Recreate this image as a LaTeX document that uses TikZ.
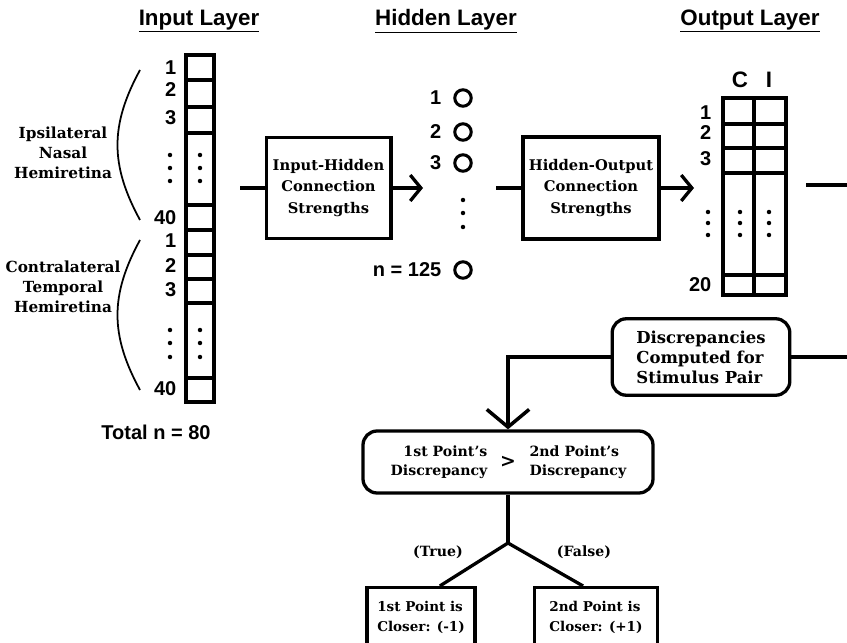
\documentclass[tikz,border=0pt]{standalone}
\usepackage{fontspec}
\setmainfont{DejaVu Serif}
\setsansfont{Liberation Sans}
\usepackage{tikz}
\usetikzlibrary{arrows.meta}

\begin{document}
\begin{tikzpicture}[x=0.85pt, y=-0.85pt, line width=2.8pt,
    head/.style={font=\sffamily\bfseries\fontsize{19}{22}\selectfont, inner sep=0pt},
    num/.style={font=\sffamily\bfseries\fontsize{17}{20}\selectfont, anchor=east, inner sep=0pt},
    note/.style={font=\bfseries\fontsize{13}{17}\selectfont, align=center, inner sep=0pt},
    box/.style={draw, line width=2.8pt, font=\bfseries\fontsize{12.5}{18}\selectfont, align=center, inner sep=0pt},
    rbox/.style={box, rounded corners=12pt},
    tag/.style={font=\bfseries\fontsize{12}{16}\selectfont, inner sep=0pt},
    unit/.style={draw, circle, line width=2.6pt, minimum size=14pt, inner sep=0pt},
    barb/.style={-{Straight Barb[length=9pt,width=22pt,line width=2.8pt]}},
    bigbarb/.style={-{Straight Barb[length=15pt,width=36pt,line width=3pt]}}]
    \useasboundingbox (0,0) rectangle (847,643);

    \node[head] (inTitle) at (199,21) {\underline{Input Layer}};
    \node[head] (hidTitle) at (446,21) {\underline{Hidden Layer}};
    \node[head] (outTitle) at (750,21) {\underline{Output Layer}};

    \foreach \t/\b in {55/80,80/107,107/133,133/205,205/230,230/255,255/279,279/303,303/378,378/402}
        \draw (186,\t) rectangle (214,\b);
    \foreach \y/\n in {68/1,90/2,118/3,218/40,241/1,266/2,290/3,389/40}
        \node[num] at (178,\y) {\n};
    \foreach \y in {155,168,181,330,343,357} {
        \fill (170,\y) circle (1.9pt);
        \fill (200,\y) circle (1.9pt);
    }
    \draw[line width=1.5pt] (140,70) .. controls (110,125) and (110,165) .. (140,220);
    \draw[line width=1.5pt] (140,240) .. controls (110,295) and (110,335) .. (140,390);
    \node[note] (nasal) at (63,153) {Ipsilateral\\Nasal\\Hemiretina};
    \node[note] (temporal) at (63,287) {Contralateral\\Temporal\\Hemiretina};
    \node[head, font=\sffamily\bfseries\fontsize{17}{20}\selectfont] (total) at (156,432) {Total n = 80};

    \foreach \y/\n in {98/1,132/2,163/3,270/{n = 125}} {
        \node[unit] (h\y) at (463,\y) {};
        \node[num] at (443,\y) {\n};
    }
    \foreach \y in {200,213,227}
        \fill (463,\y) circle (1.9pt);

    \foreach \t/\b in {98/124,124/148,148/173,173/275,275/295} {
        \draw (723,\t) rectangle (754,\b);
        \draw (754,\t) rectangle (786,\b);
    }
    \node[head] at (740,80) {C};
    \node[head] at (769,80) {I};
    \foreach \y/\n in {113/1,133/2,159/3,285/20}
        \node[num] at (713,\y) {\n};
    \foreach \y in {212,223,235} {
        \fill (708,\y) circle (1.9pt);
        \fill (740,\y) circle (1.9pt);
        \fill (769,\y) circle (1.9pt);
    }

    \node[box, minimum width=106pt, minimum height=86pt] (ih) at (328.5,188) {Input-Hidden\\Connection\\Strengths};
    \node[box, minimum width=115.6pt, minimum height=86.7pt] (ho) at (591,188) {Hidden-Output\\Connection\\Strengths};
    \coordinate (inEnd) at (240,188);
    \coordinate (ihEnd) at (423,188);
    \coordinate (hoStart) at (496,188);
    \coordinate (hoEnd) at (694,188);
    \coordinate (outA) at (806,185);
    \coordinate (outB) at (847,185);
    \draw (inEnd) -- (ih);
    \draw[barb] (ih) -- (ihEnd);
    \draw (hoStart) -- (ho);
    \draw[barb] (ho) -- (hoEnd);
    \draw (outA) -- (outB);

    \node[rbox, minimum width=151pt, minimum height=65pt, align=left, font=\bfseries\fontsize{14}{17}\selectfont] (disc) at (701,357) {Discrepancies\\Computed for\\Stimulus Pair};
    \coordinate (discEnd) at (847,357);
    \draw (disc) -- (discEnd);

    \node[rbox, minimum width=246.5pt, minimum height=52.7pt] (cond) at (508,462) {};
    \node[tag, align=right, anchor=east] (condL) at (489,462) {1st Point's\\Discrepancy};
    \node[tag, font=\bfseries\fontsize{16}{16}\selectfont] (gt) at (508,462) {>};
    \node[tag, align=left, anchor=west] (condR) at (528,462) {2nd Point's\\Discrepancy};
    \draw[bigbarb] (disc.west) -| (cond.north);

    \coordinate (fork) at (508,543);
    \node[box, anchor=north, minimum width=92pt, minimum height=51pt, align=left, font=\bfseries\fontsize{11.5}{17}\selectfont] (closeA) at (421,586) {1st Point is\\Closer: (-1)};
    \node[box, anchor=north, minimum width=104pt, minimum height=51pt, align=left, font=\bfseries\fontsize{11.5}{17}\selectfont] (closeB) at (596,586) {2nd Point is\\Closer: (+1)};
    \draw (cond) -- (fork);
    \draw (fork) -- ([xshift=16pt]closeA.north);
    \draw (fork) -- ([xshift=-11pt]closeB.north);
    \node[tag] (yes) at (438,552) {(True)};
    \node[tag] (no) at (584,552) {(False)};
\end{tikzpicture}
\end{document}
